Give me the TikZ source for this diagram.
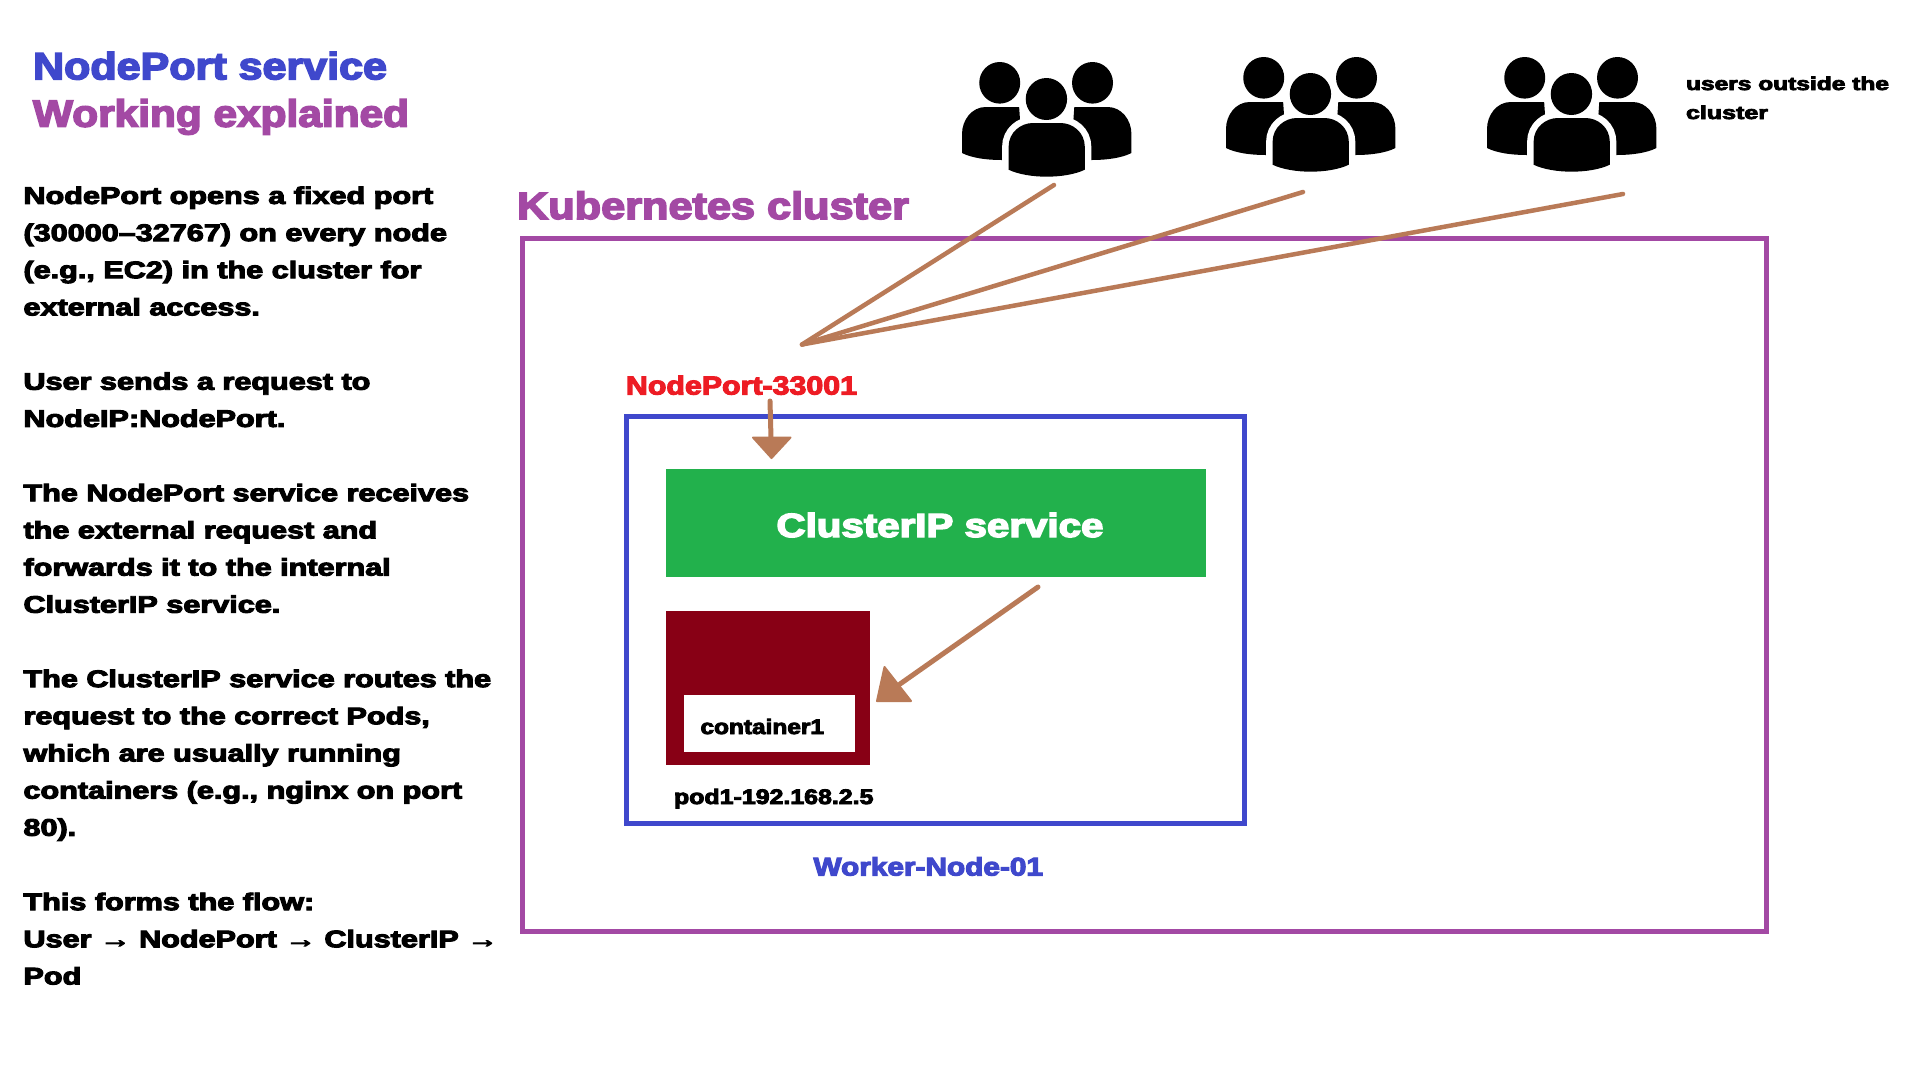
\documentclass[tikz,border=0pt]{standalone}
\usepackage{fontspec}
\usepackage{graphicx}
\setmainfont{Liberation Sans}[BoldFeatures={FakeBold=1.2}]
\newfontfamily\heavyfont{Liberation Sans}[BoldFeatures={FakeBold=4}]
\usetikzlibrary{arrows.meta}
\definecolor{kpurple}{HTML}{A349A4}
\definecolor{kblue}{HTML}{3F48CC}
\definecolor{kred}{HTML}{ED1C24}
\definecolor{kgreen}{HTML}{22B14C}
\definecolor{kdark}{HTML}{880015}
\definecolor{kbrown}{HTML}{B97A57}
\newcommand{\fitw}[2]{\resizebox{#1pt}{\height}{#2}}
\newcommand{\fh}[1]{\heavyfont\fontsize{#1}{#1}\selectfont\bfseries}
\tikzset{
  x=1pt,y=-1pt,
  boxrect/.style={minimum width=#1,inner sep=0pt,outer sep=0pt},
  lbl/.style={inner sep=0pt,outer sep=0pt,anchor=base west},
  wire/.style={draw=kbrown,line width=4.5pt,line cap=round},
  peoplegroup/.pic={
    \fill[black] (0,91) -- (0,72) .. controls (0,58) and (10,45) .. (24,45) -- (58,45) -- (62,102) -- (40,98) .. controls (25,98) and (10,96) .. (0,91) -- cycle;
    \fill[black] (172,91) -- (172,72) .. controls (172,58) and (162,45) .. (148,45) -- (114,45) -- (110,102) -- (132,98) .. controls (147,98) and (162,96) .. (172,91) -- cycle;
    \fill[black] (38.3,20.8) circle (20.8);
    \fill[black] (132.5,20.8) circle (20.8);
    \path[draw=white,line width=5pt,fill=black] (85.7,37) circle (23);
    \path[draw=white,line width=13pt,fill=black] (47.3,107.7) -- (47.3,85) .. controls (47.3,70) and (60,61) .. (72,61) -- (100,61) .. controls (112,61) and (124.7,70) .. (124.7,85) -- (124.7,107.7) .. controls (105,117) and (67,117) .. (47.3,107.7) -- cycle;
    \fill[black] (47.3,107.7) -- (47.3,85) .. controls (47.3,70) and (60,61) .. (72,61) -- (100,61) .. controls (112,61) and (124.7,70) .. (124.7,85) -- (124.7,107.7) .. controls (105,117) and (67,117) .. (47.3,107.7) -- cycle;
    \fill[black] (85.7,37) circle (21);
  }
}
\begin{document}
\begin{tikzpicture}
\useasboundingbox (0,0) rectangle (1920,1080);
\fill[white] (0,0) rectangle (1920,1080);
% titles
\node[lbl,text=kblue] (t1) at (33,79.3) {\fitw{354}{\fh{38}NodePort service}};
\node[lbl,text=kpurple] (t2) at (33,126.7) {\fitw{376}{\fh{38}Working explained}};
% body
\node[inner sep=0pt,outer sep=0pt,anchor=north west,align=left] (body) at (23.5,186.5) {\scalebox{1.275}[1]{\parbox[t]{400pt}{\fh{24}\fontsize{24}{37.17}\selectfont
NodePort opens a fixed port\\
(30000–32767) on every node\\
(e.g., EC2) in the cluster for\\
external access.\\
\mbox{}\\
User sends a request to\\
NodeIP:NodePort.\\
\mbox{}\\
The NodePort service receives\\
the external request and\\
forwards it to the internal\\
ClusterIP service.\\
\mbox{}\\
The ClusterIP service routes the\\
request to the correct Pods,\\
which are usually running\\
containers (e.g., nginx on port\\
80).\\
\mbox{}\\
This forms the flow:\\
User → NodePort → ClusterIP →\\
Pod}}};
% boxes
\node[boxrect=1244pt,minimum height=693.5pt,draw=kpurple,line width=5pt] (cluster) at (1144,585) {};
\node[lbl,text=kpurple] (kc) at (517,219) {\fitw{392}{\fh{38}Kubernetes cluster}};
\node[boxrect=617.4pt,minimum height=406.3pt,draw=kblue,line width=5pt] (worker) at (935.3,619.85) {};
\node[boxrect=540pt,minimum height=108pt,fill=kgreen] (cip) at (936,523) {};
\node[boxrect=204.4pt,minimum height=154pt,fill=kdark] (pod) at (768.2,688) {};
\node[boxrect=170.6pt,minimum height=57pt,fill=white] (ctr) at (769.4,723.5) {};
% labels
\node[lbl,text=white] (ciplbl) at (776.5,537) {\fitw{327}{\fh{33.5}ClusterIP service}};
\node[lbl,text=black] (ctrlbl) at (700.5,734) {\fitw{123.5}{\fh{21}container1}};
\node[lbl,text=black] (podlbl) at (674,804) {\fitw{199.5}{\fh{21}pod1-192.168.2.5}};
\node[lbl,text=kred] (nplbl) at (626,394.5) {\fitw{231}{\fh{26}NodePort-33001}};
\node[lbl,text=kblue] (wlbl) at (813.5,875.5) {\fitw{229.5}{\fh{25.5}Worker-Node-01}};
\node[lbl,text=black] (u1) at (1686,90) {\fitw{203}{\fh{18.5}users outside the}};
\node[lbl,text=black] (u2) at (1686,119) {\fitw{82}{\fh{18.5}cluster}};
% people
\pic[xscale=.985] at (962,62) {peoplegroup};
\pic[xscale=.985] at (1226,57) {peoplegroup};
\pic[xscale=.985] at (1487,57) {peoplegroup};
% connectors
\coordinate (hub) at (802,344.5);
\coordinate (g1) at (1054,185);
\coordinate (g2) at (1303,192);
\coordinate (g3) at (1623,194);
\draw[wire] (g1) -- (hub);
\draw[wire] (g2) -- (hub);
\draw[wire] (g3) -- (hub);
\coordinate (a1s) at (770,401);
\coordinate (a1t) at (771.5,458);
\coordinate (a1l) at (753,437.5);
\coordinate (a1r) at (790.5,437.5);
\coordinate (a1m) at (771,438);
\draw[wire,line width=5pt] (a1s) -- (a1m);
\fill[kbrown,draw=kbrown,line width=2pt,line join=round] (a1l) -- (a1r) -- (a1t) -- cycle;
\coordinate (a2s) at (1038,587);
\coordinate (a2m) at (900,684);
\coordinate (a2a) at (884.5,667);
\coordinate (a2b) at (911,701);
\coordinate (a2t) at (877,701);
\draw[wire,line width=5pt] (a2s) -- (a2m);
\fill[kbrown,draw=kbrown,line width=2pt,line join=round] (a2a) -- (a2b) -- (a2t) -- cycle;
\end{tikzpicture}
\end{document}
